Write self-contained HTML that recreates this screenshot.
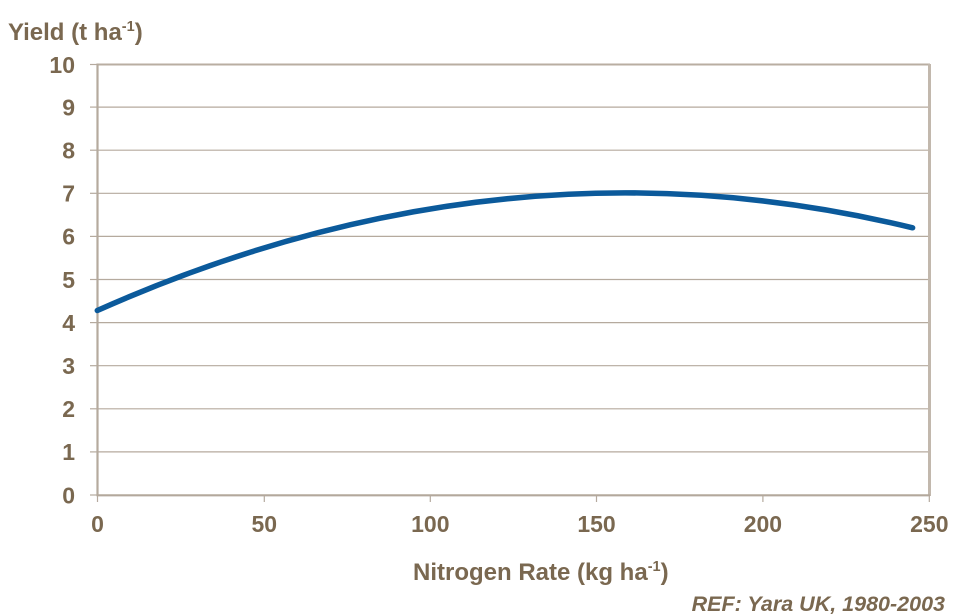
<!DOCTYPE html>
<html>
<head>
<meta charset="utf-8">
<style>
  html, body { margin: 0; padding: 0; background: #ffffff; }
  svg { display: block; }
  text { font-family: "Liberation Sans", Arial, sans-serif; font-weight: bold; fill: #7a6850; }
</style>
</head>
<body>
<svg width="960" height="614" viewBox="0 0 960 614" xmlns="http://www.w3.org/2000/svg">
  <!-- gridlines -->
  <g stroke="#b5aa9e" stroke-width="1.2">
    <line x1="97" y1="107.1" x2="929" y2="107.1"/>
    <line x1="97" y1="150.2" x2="929" y2="150.2"/>
    <line x1="97" y1="193.3" x2="929" y2="193.3"/>
    <line x1="97" y1="236.4" x2="929" y2="236.4"/>
    <line x1="97" y1="279.5" x2="929" y2="279.5"/>
    <line x1="97" y1="322.6" x2="929" y2="322.6"/>
    <line x1="97" y1="365.7" x2="929" y2="365.7"/>
    <line x1="97" y1="408.8" x2="929" y2="408.8"/>
    <line x1="97" y1="451.9" x2="929" y2="451.9"/>
  </g>
  <!-- y ticks -->
  <g stroke="#b5aa9e" stroke-width="1.2">
    <line x1="90" y1="64.5" x2="97" y2="64.5"/>
    <line x1="90" y1="107.1" x2="97" y2="107.1"/>
    <line x1="90" y1="150.2" x2="97" y2="150.2"/>
    <line x1="90" y1="193.3" x2="97" y2="193.3"/>
    <line x1="90" y1="236.4" x2="97" y2="236.4"/>
    <line x1="90" y1="279.5" x2="97" y2="279.5"/>
    <line x1="90" y1="322.6" x2="97" y2="322.6"/>
    <line x1="90" y1="365.7" x2="97" y2="365.7"/>
    <line x1="90" y1="408.8" x2="97" y2="408.8"/>
    <line x1="90" y1="451.9" x2="97" y2="451.9"/>
    <line x1="90" y1="495" x2="97" y2="495"/>
  </g>
  <!-- x ticks -->
  <g stroke="#b5aa9e" stroke-width="1.2">
    <line x1="97.5" y1="495" x2="97.5" y2="502"/>
    <line x1="264.3" y1="495" x2="264.3" y2="502"/>
    <line x1="430.3" y1="495" x2="430.3" y2="502"/>
    <line x1="596.5" y1="495" x2="596.5" y2="502"/>
    <line x1="762.9" y1="495" x2="762.9" y2="502"/>
    <line x1="929.3" y1="495" x2="929.3" y2="502"/>
  </g>
  <!-- frame -->
  <line x1="97" y1="64.5" x2="930" y2="64.5" stroke="#b9aea2" stroke-width="2"/>
  <line x1="929.5" y1="64" x2="929.5" y2="496" stroke="#c2b8ad" stroke-width="3"/>
  <line x1="97.5" y1="63.5" x2="97.5" y2="496" stroke="#b5aa9e" stroke-width="2.2"/>
  <line x1="96.5" y1="495.3" x2="930" y2="495.3" stroke="#b3a89c" stroke-width="2.2"/>

  <!-- curve -->
  <path d="M97.3,310.5 Q505,128.8 912.6,227.8" fill="none" stroke="#0b5a9b" stroke-width="5.5" stroke-linecap="round"/>

  <!-- y labels -->
  <g font-size="23" text-anchor="end">
    <text x="75" y="72.8">10</text>
    <text x="75" y="115.4">9</text>
    <text x="75" y="158.5">8</text>
    <text x="75" y="201.6">7</text>
    <text x="75" y="244.7">6</text>
    <text x="75" y="287.8">5</text>
    <text x="75" y="330.9">4</text>
    <text x="75" y="374">3</text>
    <text x="75" y="417.1">2</text>
    <text x="75" y="460.2">1</text>
    <text x="75" y="503.3">0</text>
  </g>
  <!-- x labels -->
  <g font-size="23" text-anchor="middle">
    <text x="97.5" y="532">0</text>
    <text x="264.3" y="532">50</text>
    <text x="430.3" y="532">100</text>
    <text x="596.5" y="532">150</text>
    <text x="762.9" y="532">200</text>
    <text x="929.3" y="532">250</text>
  </g>

  <!-- titles -->
  <text x="8" y="40" font-size="24">Yield (t ha<tspan font-size="14.5" dy="-9">-1</tspan><tspan dy="9">)</tspan></text>
  <text x="413" y="580" font-size="24">Nitrogen Rate (kg ha<tspan font-size="14.5" dy="-9">-1</tspan><tspan dy="9">)</tspan></text>
  <text x="945" y="611" font-size="21.5" font-style="italic" text-anchor="end">REF: Yara UK, 1980-2003</text>
</svg>
</body>
</html>
